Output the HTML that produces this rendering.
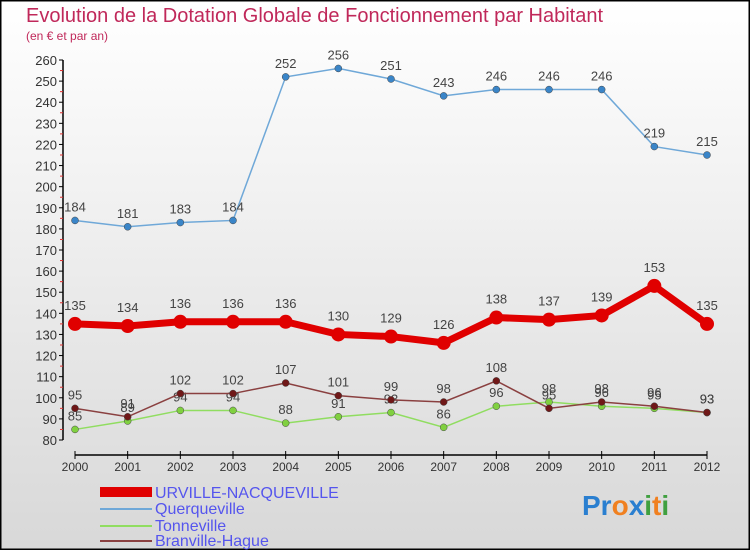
<!DOCTYPE html>
<html><head><meta charset="utf-8"><style>
body{margin:0}
#c{width:750px;height:550px;position:relative;overflow:hidden;font-family:"Liberation Sans",sans-serif}
</style></head><body>
<div id="c">
<svg id="s" width="750" height="550" xmlns="http://www.w3.org/2000/svg">
<defs><linearGradient id="bg" x1="0" y1="0" x2="0" y2="1"><stop offset="0" stop-color="#ffffff"/><stop offset="1" stop-color="#d8d8d8"/></linearGradient></defs>
<rect x="0.5" y="0.5" width="749" height="549" fill="url(#bg)" stroke="#000" stroke-width="2"/>
<text x="26" y="22" font-size="20" fill="#c0285a">Evolution de la Dotation Globale de Fonctionnement par Habitant</text>
<text x="26" y="40" font-size="12" fill="#c0285a">(en € et par an)</text>
<g id="axes"></g><g id="series"></g>
<g>
<rect x="100" y="487" width="52" height="10" fill="#e00000"/>
<text x="155" y="498" font-size="16" fill="#5555ee">URVILLE-NACQUEVILLE</text>
<line x1="100" y1="509" x2="152" y2="509" stroke="#6fa8d8" stroke-width="2"/>
<text x="155" y="514" font-size="16" fill="#5555ee">Querqueville</text>
<line x1="100" y1="526" x2="152" y2="526" stroke="#90dd60" stroke-width="2"/>
<text x="155" y="531" font-size="16" fill="#5555ee">Tonneville</text>
<line x1="100" y1="541" x2="152" y2="541" stroke="#8a4040" stroke-width="2"/>
<text x="155" y="546" font-size="16" fill="#5555ee">Branville-Hague</text>
</g>
<text x="582" y="515" font-size="28" font-weight="bold"><tspan fill="#2a7fd0">Pr</tspan><tspan fill="#f08020">o</tspan><tspan fill="#2a7fd0">x</tspan><tspan fill="#40a040">i</tspan><tspan fill="#f08020">t</tspan><tspan fill="#40a040">i</tspan></text>
</svg>
</div>
<script>
const years=[2000,2001,2002,2003,2004,2005,2006,2007,2008,2009,2010,2011,2012];
const urville=[135,134,136,136,136,130,129,126,138,137,139,153,135];
const querqueville=[184,181,183,184,252,256,251,243,246,246,246,219,215];
const tonneville=[85,89,94,94,88,91,93,86,96,98,96,95,93];
const branville=[95,91,102,102,107,101,99,98,108,95,98,96,93];
const yTicks=[80,90,100,110,120,130,140,150,160,170,180,190,200,210,220,230,240,250,260];
const NS="http://www.w3.org/2000/svg";
const xs=i=>75+i*(707-75)/(years.length-1);
const ys=v=>440-(v-80)*(380/180);
function mk(t,a,p){const e=document.createElementNS(NS,t);for(const k in a)e.setAttribute(k,a[k]);p.appendChild(e);return e;}
const ax=document.getElementById('axes');
let yl=mk('line',{x1:63,y1:ys(260),x2:63,y2:ys(80),stroke:'#000','stroke-width':1.5},ax);


yTicks.forEach(v=>{
 mk('line',{x1:59,y1:ys(v),x2:63,y2:ys(v),stroke:'#000'},ax);
 if(v<260) mk('line',{x1:60,y1:ys(v+5),x2:63,y2:ys(v+5),stroke:'#e03030'},ax);
 const t=mk('text',{x:57,y:ys(v)+5,'font-size':13,'text-anchor':'end',fill:'#333'},ax);t.textContent=v;
 
 
});
let xl=mk('line',{x1:75,y1:455,x2:707,y2:455,stroke:'#000','stroke-width':1.5},ax);


years.forEach((y,i)=>{
 mk('line',{x1:xs(i),y1:451,x2:xs(i),y2:459,stroke:'#000'},ax);
 const t=mk('text',{x:xs(i),y:471,'font-size':12,'text-anchor':'middle',fill:'#333'},ax);t.textContent=y;
 
 
});
const sg=document.getElementById('series');
function series(name,data,col,dot,w,r,off){
 const g=mk('g',{},sg);
 
 
 mk('polyline',{points:data.map((v,i)=>xs(i)+','+ys(v)).join(' '),fill:'none',stroke:col,'stroke-width':w},g);
 data.forEach((v,i)=>{
  const c=mk('circle',{cx:xs(i),cy:ys(v),r:r,fill:dot,stroke:dot==='#e00000'?'none':'#444','stroke-width':0.5},g);
  
  
  const t=mk('text',{x:xs(i),y:ys(v)-off,'font-size':13,'text-anchor':'middle',fill:'#444'},g);t.textContent=v;
  
  
 });
}
series('querqueville',querqueville,'#6fa8d8','#3a85c8',1.5,3.5,9);
series('tonneville',tonneville,'#90dd60','#80d040',1.5,3.5,9);
series('branville',branville,'#8a4040','#701818',1.5,3.5,9);
series('urville',urville,'#e00000','#e00000',7,7,14);
</script>
</body></html>
